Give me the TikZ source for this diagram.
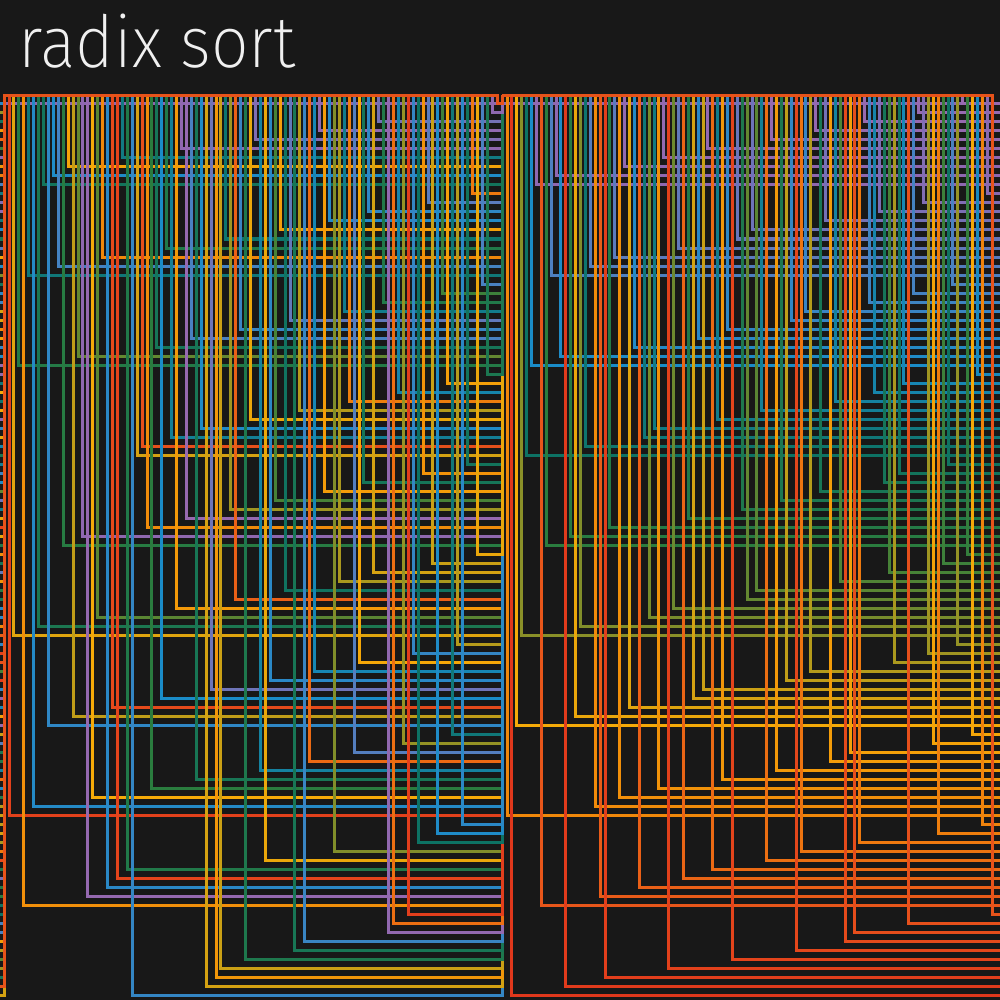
\documentclass[tikz,border=0pt]{standalone}
\usepackage{fontspec}
\newfontfamily\titlefont{Fira Sans ExtraLight}[FakeStretch=0.92]
\definecolor{bg}{HTML}{181818}
\definecolor{titlecol}{HTML}{F0F0F0}
\definecolor{a0}{HTML}{E0381C}
\definecolor{a1}{HTML}{E8561A}
\definecolor{a2}{HTML}{F0880A}
\definecolor{a3}{HTML}{F5AA08}
\definecolor{a4}{HTML}{8A9028}
\definecolor{a5}{HTML}{2A7C3E}
\definecolor{a6}{HTML}{0D7264}
\definecolor{a7}{HTML}{1A8CC8}
\definecolor{a8}{HTML}{4E80C0}
\definecolor{a9}{HTML}{8E68B0}
\definecolor{a10}{HTML}{9A6AB0}
\tikzset{elem/.style={line width=1.5pt, line join=miter}}
% digit of each left-panel column (ten of each)
\def\dlist{{2,4,7,1,8,2,4,9,3,9, 8,5,9,3,7,5,1,2,4,8, 1,3,1,9,1,0,6,6,5,2, 7,3,8,6,4,9,5,7,2,6, 0,3,0,0,8,5,4,7,0,6, 9,2,1,3,5,8,4,7,0,6, 0,2,3,9,5,8,1,4,7,6, 2,3,5,8,4,9,7,0,0,6, 2,0,3,1,5,8,4,1,7,6, 2,3,1,5,8,4,7,6,9,9}}
% colour value of each left-panel column
\def\lval{{3,32,52,22,62,72,55,58,74,71, 78,51,28,35,44,91,96,30,45,20, 73,6,4,63,53,75,33,8,21,50, 57,70,53,65,25,92,97,79,56,71, 33,85,24,34,61,38,12,76,54,31, 88,66,31,73,47,27,59,83,56,36, 76,14,68,93,26,72,41,37,64,18, 81,29,57,74,33,86,53,93,15,67, 39,2,75,60,23,82,34,71,48,27, 62,36,73,58,17,31,79,55,90,9}}
% high digit reached by each right-panel column
\def\hlist{{2,0,3,4,6,7,9,1,5,8, 9,7,0,5,3,4,6,8,2,1, 0,5,8,2,9,3,7,1,6,4, 6,2,9,0,4,8,1,5,3,7, 3,9,1,6,2,7,0,8,5,4, 8,4,6,1,9,2,5,3,7,0, 1,7,3,9,5,8,2,6,4,0, 2,0,1,9,7,6,8,5,4,3, 5,6,0,7,9,8,3,2,1,4, 5,7,3,9,4,2,6,1,8,0}}
\newcommand\setlinecolor[1]{%
  \pgfmathtruncatemacro{\hh}{#1/10}%
  \pgfmathtruncatemacro{\dgc}{mod(#1,10)}%
  \pgfmathtruncatemacro{\hn}{\hh+1}%
  \pgfmathtruncatemacro{\wt}{100-10*\dgc}%
  \colorlet{lc}{a\hh!\wt!a\hn}}
\begin{document}
\begin{tikzpicture}[x=0.5pt,y=-0.5pt]
\fill[bg] (0,0) rectangle (1000,1000);
\useasboundingbox (0,0) rectangle (1000,1000);
\node[anchor=base west, inner sep=0, text=titlecol, font=\titlefont\fontsize{36}{36}\selectfont] (title) at (18,68) {radix sort};
\begin{scope}
\clip (0,0) rectangle (1000,1000);
\draw[elem, a9] (4,104) -- (1005,104);
\foreach \dg in {0,...,9}{\expandafter\xdef\csname C\dg\endcsname{0}}
\foreach \i in {0,...,99}{%
  \pgfmathtruncatemacro{\dg}{\dlist[\i]}%
  \edef\cnt{\csname C\dg\endcsname}%
  \pgfmathtruncatemacro{\rk}{10*\dg+\cnt}%
  \expandafter\xdef\csname R\i\endcsname{\rk}%
  \pgfmathtruncatemacro{\cn}{\cnt+1}%
  \expandafter\xdef\csname C\dg\endcsname{\cn}%
}
% left panel
\foreach \i in {0,...,99}{%
  \edef\rk{\csname R\i\endcsname}%
  \pgfmathtruncatemacro{\vv}{\lval[\i]}%
  \setlinecolor{\vv}%
  \pgfmathsetmacro{\xa}{9+4.93*\i}%
  \pgfmathsetmacro{\ya}{995-9*mod(37*\i+38,100)}%
  \pgfmathsetmacro{\yb}{995-9*\rk}%
  \draw[elem, lc] (-5,\ya) -- (4,\ya) -- (4,95.5) -- (\xa,95.5) -- (\xa,\yb) -- (502,\yb) -- (502,95.5);
}
% right panel
\foreach \p in {0,...,99}{%
  \pgfmathtruncatemacro{\hp}{\hlist[\p]}%
  \pgfmathtruncatemacro{\vv}{10*\hp+int(\p/10)}%
  \setlinecolor{\vv}%
  \pgfmathsetmacro{\xb}{507+4.9*\p}%
  \pgfmathsetmacro{\yc}{995-9*\vv}%
  \draw[elem, lc] (502,95.5) -- (\xb,95.5) -- (\xb,\yc) -- (1005,\yc);
}
\end{scope}
\end{tikzpicture}
\end{document}
